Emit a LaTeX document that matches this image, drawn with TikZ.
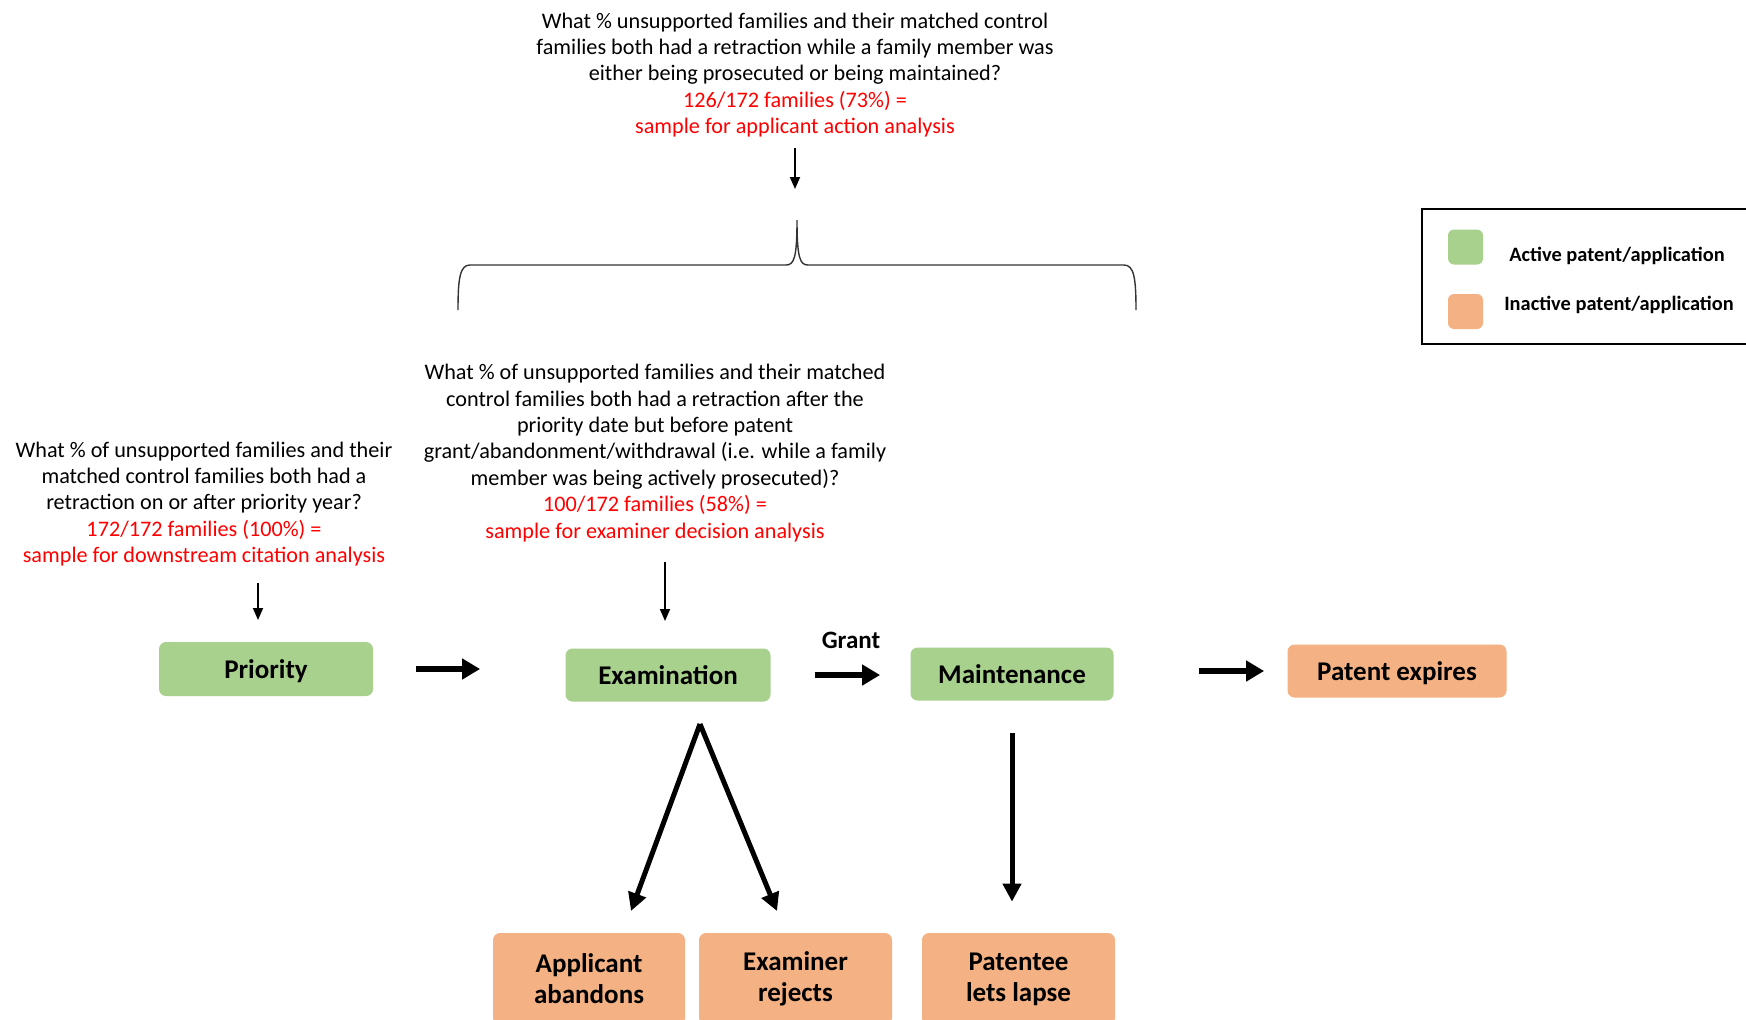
\documentclass[tikz,border=0pt]{standalone}
\usepackage{fontspec}
\setmainfont{Carlito}
\usetikzlibrary{arrows.meta}
\definecolor{actgreen}{HTML}{A9D18E}
\definecolor{inactorange}{HTML}{F4B183}
\definecolor{redtxt}{HTML}{FF0000}
\begin{document}
\begin{tikzpicture}[x=0.5pt,y=-0.5pt,
 question/.style={align=center, inner sep=0pt, font=\fontsize{11.1}{13.2}\selectfont},
 stage/.style={rounded corners=3.5pt, inner sep=0pt, align=center, font=\fontsize{13.5}{15.6}\selectfont\bfseries},
 oneline/.style={text height=9.6pt, text depth=0pt},
 active/.style={stage, fill=actgreen},
 inactive/.style={stage, fill=inactorange},
 legsq/.style={rounded corners=3pt, minimum size=17.5pt, inner sep=0pt},
 legtxt/.style={inner sep=0pt, font=\fontsize{10.2}{12}\selectfont\bfseries},
 thinarr/.style={line width=0.9pt, -{Triangle[length=6pt,width=5pt]}},
 fatarr/.style={line width=3pt, -{Triangle[length=9pt,width=10pt]}},
 diagarr/.style={line width=2.5pt, -{Triangle[length=9pt,width=9pt]}},
 bracestyle/.style={line width=0.7pt, draw=black!80}
]
\clip (0,0) rectangle (1746,1019);
\fill[white] (0,0) rectangle (1746,1019);

% top question
\node[question] (toptext) at (795,75) {What \% unsupported families and their matched control\\
families both had a retraction while a family member was\\
either being prosecuted or being maintained?\\
\textcolor{redtxt}{126/172 families (73\%) =}\\
\textcolor{redtxt}{sample for applicant action analysis}};
\coordinate (topend) at (795,189);
\draw[thinarr] (toptext.south |- 0,148) -- (topend);

% brace
\draw[bracestyle] (458,310) .. controls (458,278) and (460,265) .. (470,265)
  -- (786,265) .. controls (794,265) and (797,258) .. (797,220)
  .. controls (797,258) and (800,265) .. (808,265)
  -- (1124,265) .. controls (1134,265) and (1136,278) .. (1136,310);

% middle question
\node[question] (midtext) at (655,453) {What \% of unsupported families and their matched\\
control families both had a retraction after the\\
priority date but before patent\\
grant/abandonment/withdrawal (i.e. while a family\\
member was being actively prosecuted)?\\
\textcolor{redtxt}{100/172 families (58\%) =}\\
\textcolor{redtxt}{sample for examiner decision analysis}};

% left question
\node[question] (lefttext) at (204,504) {What \% of unsupported families and their\\
matched control families both had a\\
retraction on or after priority year?\\
\textcolor{redtxt}{172/172 families (100\%) =}\\
\textcolor{redtxt}{sample for downstream citation analysis}};

% stages
\node[active, oneline, minimum width=107pt, minimum height=27pt] (priority) at (266,669) {Priority};
\node[active, oneline, minimum width=102.5pt, minimum height=26.5pt] (exam) at (668,675) {Examination};
\node[active, oneline, minimum width=101.5pt, minimum height=26.5pt] (maint) at (1012,674) {Maintenance};
\node[inactive, oneline, minimum width=109.5pt, minimum height=26.5pt] (expires) at (1397,671) {Patent expires};
\node[inactive, minimum width=96pt, minimum height=46pt] (abandons) at (589,979) {Applicant\\abandons};
\node[inactive, minimum width=96.5pt, minimum height=46pt] (rejects) at (795.5,979) {Examiner\\rejects};
\node[inactive, minimum width=96.5pt, minimum height=46pt] (lapse) at (1018.5,979) {Patentee\\lets lapse};
\node[font=\fontsize{12.5}{14}\selectfont\bfseries, inner sep=0pt] (grant) at (851,640) {Grant};

% thin arrows
\coordinate (leftstart) at (258,583);
\coordinate (leftend) at (258,620);
\draw[thinarr] (leftstart) -- (leftend);
\coordinate (midstart) at (665,562);
\coordinate (midend) at (665,621);
\draw[thinarr] (midstart) -- (midend);

% thick arrows
\draw[fatarr, shorten <=21.5pt, shorten >=42.5pt] (priority.east) -- (priority.east -| exam.west);
\draw[fatarr, shorten <=22pt, shorten >=15pt] (exam.east) -- (exam.east -| maint.west);
\draw[fatarr, shorten <=42.5pt, shorten >=11.5pt] (maint.east |- expires.east) -- (expires.west);

\coordinate (apex) at (700,724);
\coordinate (abend) at (631,911);
\coordinate (rejend) at (777,911);
\draw[diagarr] (apex) -- (abend);
\draw[diagarr] (apex) -- (rejend);
\draw[diagarr, shorten <=16pt, shorten >=15.5pt] (maint.south) -- (maint.south |- lapse.north);

% legend
\draw[line width=1pt] (1422,209) rectangle (1770,344);
\node[legsq, fill=actgreen] (legact) at (1465.5,247) {};
\node[legsq, fill=inactorange] (leginact) at (1465.5,311.5) {};
\node[legtxt] (legacttxt) at (1617,256) {Active patent/application};
\node[legtxt] (leginacttxt) at (1619,305) {Inactive patent/application};
\end{tikzpicture}
\end{document}
